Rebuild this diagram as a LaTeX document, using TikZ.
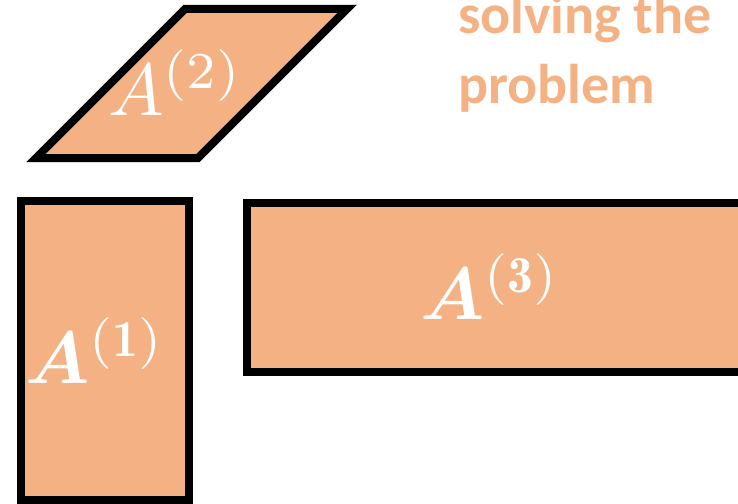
\documentclass[tikz,border=0pt]{standalone}
\usepackage{fontspec}
\usepackage{amsmath,bm}
\newfontfamily\carl{Carlito}
\definecolor{peach}{HTML}{F4B183}
\begin{document}
\begin{tikzpicture}[x=1pt,y=-1pt,
  block/.style={fill=peach,draw=black,line width=8pt,line join=miter},
  lbl/.style={text=white,inner sep=0pt,anchor=base west},
  note/.style={text=peach,inner sep=0pt,anchor=base west,align=left,font=\carl\bfseries\fontsize{56}{70}\selectfont}]
\useasboundingbox (0,0) rectangle (738,503);
% A(2) parallelogram
\draw[block] (185,9) -- (347,9) -- (198,158) -- (36,158) -- cycle;
% A(1)
\draw[block] (20.5,201) rectangle (189,499.5);
% A(3)
\draw[block] (247,203) rectangle (760,372);
\node[lbl] (a2) at (108,115) {\scalebox{7.4}{$A^{(2)}$}};
\node[lbl] (a1) at (25,383) {\scalebox{7.4}{$\bm{A}^{(\mathbf{1})}$}};
\node[lbl] (a3) at (420,319) {\scalebox{7.4}{$\bm{A}^{(\mathbf{3})}$}};
\node[note] (sol) at (458,103) {solving the\\problem};
\end{tikzpicture}
\end{document}
